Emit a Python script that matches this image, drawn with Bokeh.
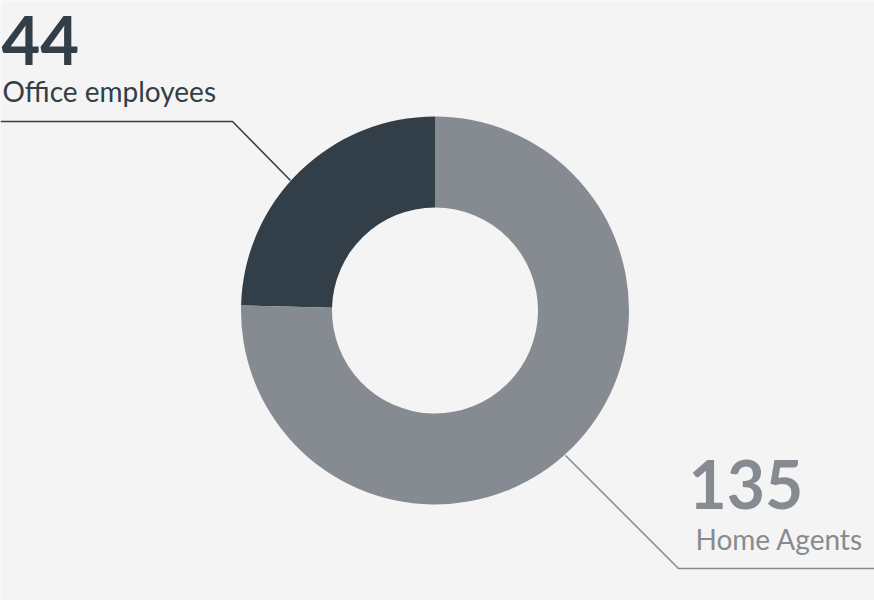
import numpy as np
from bokeh.plotting import figure
from bokeh.models import Range1d
from bokeh.core.properties import value
from bokeh.embed import file_html
from bokeh.resources import INLINE

categories = ["Office employees", "Home Agents"]
counts = [44, 135]
colors = ["#323e48", "#868b91"]

W, H = 874, 600
p = figure(width=W, height=H, output_backend="svg", toolbar_location=None,
           x_range=Range1d(0, W), y_range=Range1d(0, H), min_border=0)
p.axis.visible = False
p.grid.visible = False
p.outline_line_color = None
p.background_fill_color = "#f4f4f4"
p.border_fill_color = "#f4f4f4"

total = sum(counts)
fracs = np.array(counts) / total
ends = np.cumsum(fracs) * 2 * np.pi
starts = np.concatenate([[0], ends[:-1]])
offset = np.pi / 2
cx, cy = 434.5, H - 310
p.annular_wedge(x=cx, y=cy, inner_radius=103, outer_radius=194,
                start_angle=list(starts + offset), end_angle=list(ends + offset),
                fill_color=colors, line_color=None)

# leader lines
p.line(x=[0, 232, 290], y=[H - 121, H - 121, H - 180], line_color=colors[0], line_width=1.5)
p.line(x=[565, 678, W], y=[H - 455, H - 568, H - 568], line_color=colors[1], line_width=1.5)

font = value("Lato")
p.text(x=[1], y=[H - 40], text=[str(counts[0])], text_font=font, text_font_size="67px",
       text_font_style="bold", text_color=colors[0], text_baseline="alphabetic")
p.text(x=[2], y=[H - 90], text=[categories[0]], text_font=font, text_font_size="28px",
       text_color=colors[0], text_baseline="alphabetic")
p.text(x=[688], y=[H - 484], text=[str(counts[1])], text_font=font, text_font_size="66px",
       text_font_style="bold", text_color=colors[1], text_baseline="alphabetic")
p.text(x=[695], y=[H - 538], text=[categories[1]], text_font=font, text_font_size="28px",
       text_color=colors[1], text_baseline="alphabetic")

open("out.html", "w").write(file_html(p, INLINE))
